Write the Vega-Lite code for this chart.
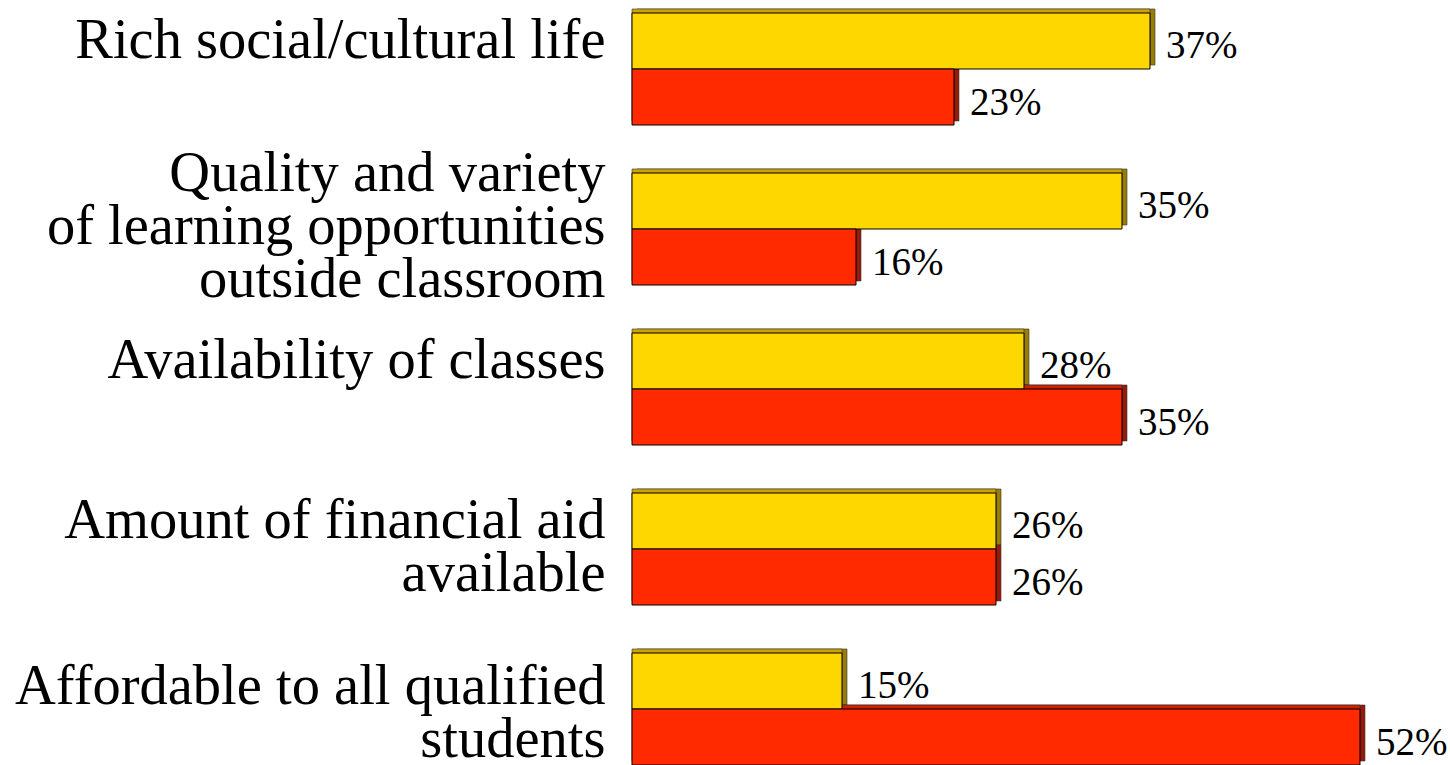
{
  "$schema": "https://vega.github.io/schema/vega-lite/v6.json",
  "width": 818,
  "height": 765,
  "autosize": {"type": "none"},
  "padding": {"left": 632, "top": 0, "right": 0, "bottom": 0},
  "background": "white",
  "config": {"view": {"stroke": null}},
  "data": {
    "values": [
      {"category": "Rich social/cultural life", "series": "A", "value": 0.37},
      {"category": "Rich social/cultural life", "series": "B", "value": 0.23},
      {"category": "Quality and variety|of learning opportunities|outside classroom", "series": "A", "value": 0.35},
      {"category": "Quality and variety|of learning opportunities|outside classroom", "series": "B", "value": 0.16},
      {"category": "Availability of classes", "series": "A", "value": 0.28},
      {"category": "Availability of classes", "series": "B", "value": 0.35},
      {"category": "Amount of financial aid|available", "series": "A", "value": 0.26},
      {"category": "Amount of financial aid|available", "series": "B", "value": 0.26},
      {"category": "Affordable to all qualified|students", "series": "A", "value": 0.15},
      {"category": "Affordable to all qualified|students", "series": "B", "value": 0.52}
    ]
  },
  "encoding": {
    "y": {
      "field": "category",
      "type": "nominal",
      "sort": null,
      "scale": {"paddingInner": 0.3, "paddingOuter": 0.040625, "align": 1},
      "axis": {
        "title": null,
        "domain": false,
        "ticks": false,
        "tickSize": 0,
        "grid": false,
        "labelPadding": 27,
        "labelOffset": {
          "condition": [
            {"test": "indexof(datum.label, 'Quality') == 0", "value": -55},
            {"test": "indexof(datum.label, 'Affordable') == 0", "value": -22}
          ],
          "value": -28
        },
        "labelFont": "Liberation Serif",
        "labelFontSize": 56.5,
        "labelLineHeight": 53,
        "labelColor": "#000000",
        "labelLimit": 0,
        "labelAlign": "right",
        "labelBaseline": "middle",
        "labelExpr": "split(datum.label, '|')"
      }
    },
    "x": {
      "field": "value",
      "type": "quantitative",
      "scale": {"domain": [0, 0.5843], "nice": false, "zero": true},
      "axis": null
    }
  },
  "layer": [
    {
      "transform": [{"filter": "datum.series == 'A'"}],
      "mark": {"type": "bar", "height": {"band": 0.5}, "yOffset": -32, "xOffset": 5, "x2Offset": 5, "color": "#9A7D00", "stroke": "#333333", "strokeWidth": 0.6}
    },
    {
      "transform": [{"filter": "datum.series == 'A'"}],
      "mark": {"type": "bar", "height": {"band": 0.5}, "yOffset": -32, "color": "#CCA300", "stroke": "#333333", "strokeWidth": 0.6}
    },
    {
      "transform": [{"filter": "datum.series == 'B'"}],
      "mark": {"type": "bar", "height": {"band": 0.5}, "yOffset": 24, "xOffset": 5, "x2Offset": 5, "color": "#961A08", "stroke": "#333333", "strokeWidth": 0.6}
    },
    {
      "transform": [{"filter": "datum.series == 'B'"}],
      "mark": {"type": "bar", "height": {"band": 0.5}, "yOffset": 24, "color": "#CC2200", "stroke": "#333333", "strokeWidth": 0.6}
    },
    {
      "transform": [{"filter": "datum.series == 'A'"}],
      "mark": {"type": "bar", "height": {"band": 0.5}, "yOffset": -28, "color": "#FFD700", "stroke": "#000000", "strokeWidth": 1}
    },
    {
      "transform": [{"filter": "datum.series == 'B'"}],
      "mark": {"type": "bar", "height": {"band": 0.5}, "yOffset": 28, "color": "#FF2A00", "stroke": "#000000", "strokeWidth": 1}
    },
    {
      "transform": [{"filter": "datum.series == 'A'"}],
      "mark": {"type": "text", "yOffset": -23, "dx": 16, "align": "left", "baseline": "middle", "font": "Liberation Serif", "fontSize": 39, "color": "#000000"},
      "encoding": {"text": {"field": "value", "type": "quantitative", "format": ".0%"}}
    },
    {
      "transform": [{"filter": "datum.series == 'B'"}],
      "mark": {"type": "text", "yOffset": 34, "dx": 16, "align": "left", "baseline": "middle", "font": "Liberation Serif", "fontSize": 39, "color": "#000000"},
      "encoding": {"text": {"field": "value", "type": "quantitative", "format": ".0%"}}
    }
  ]
}
